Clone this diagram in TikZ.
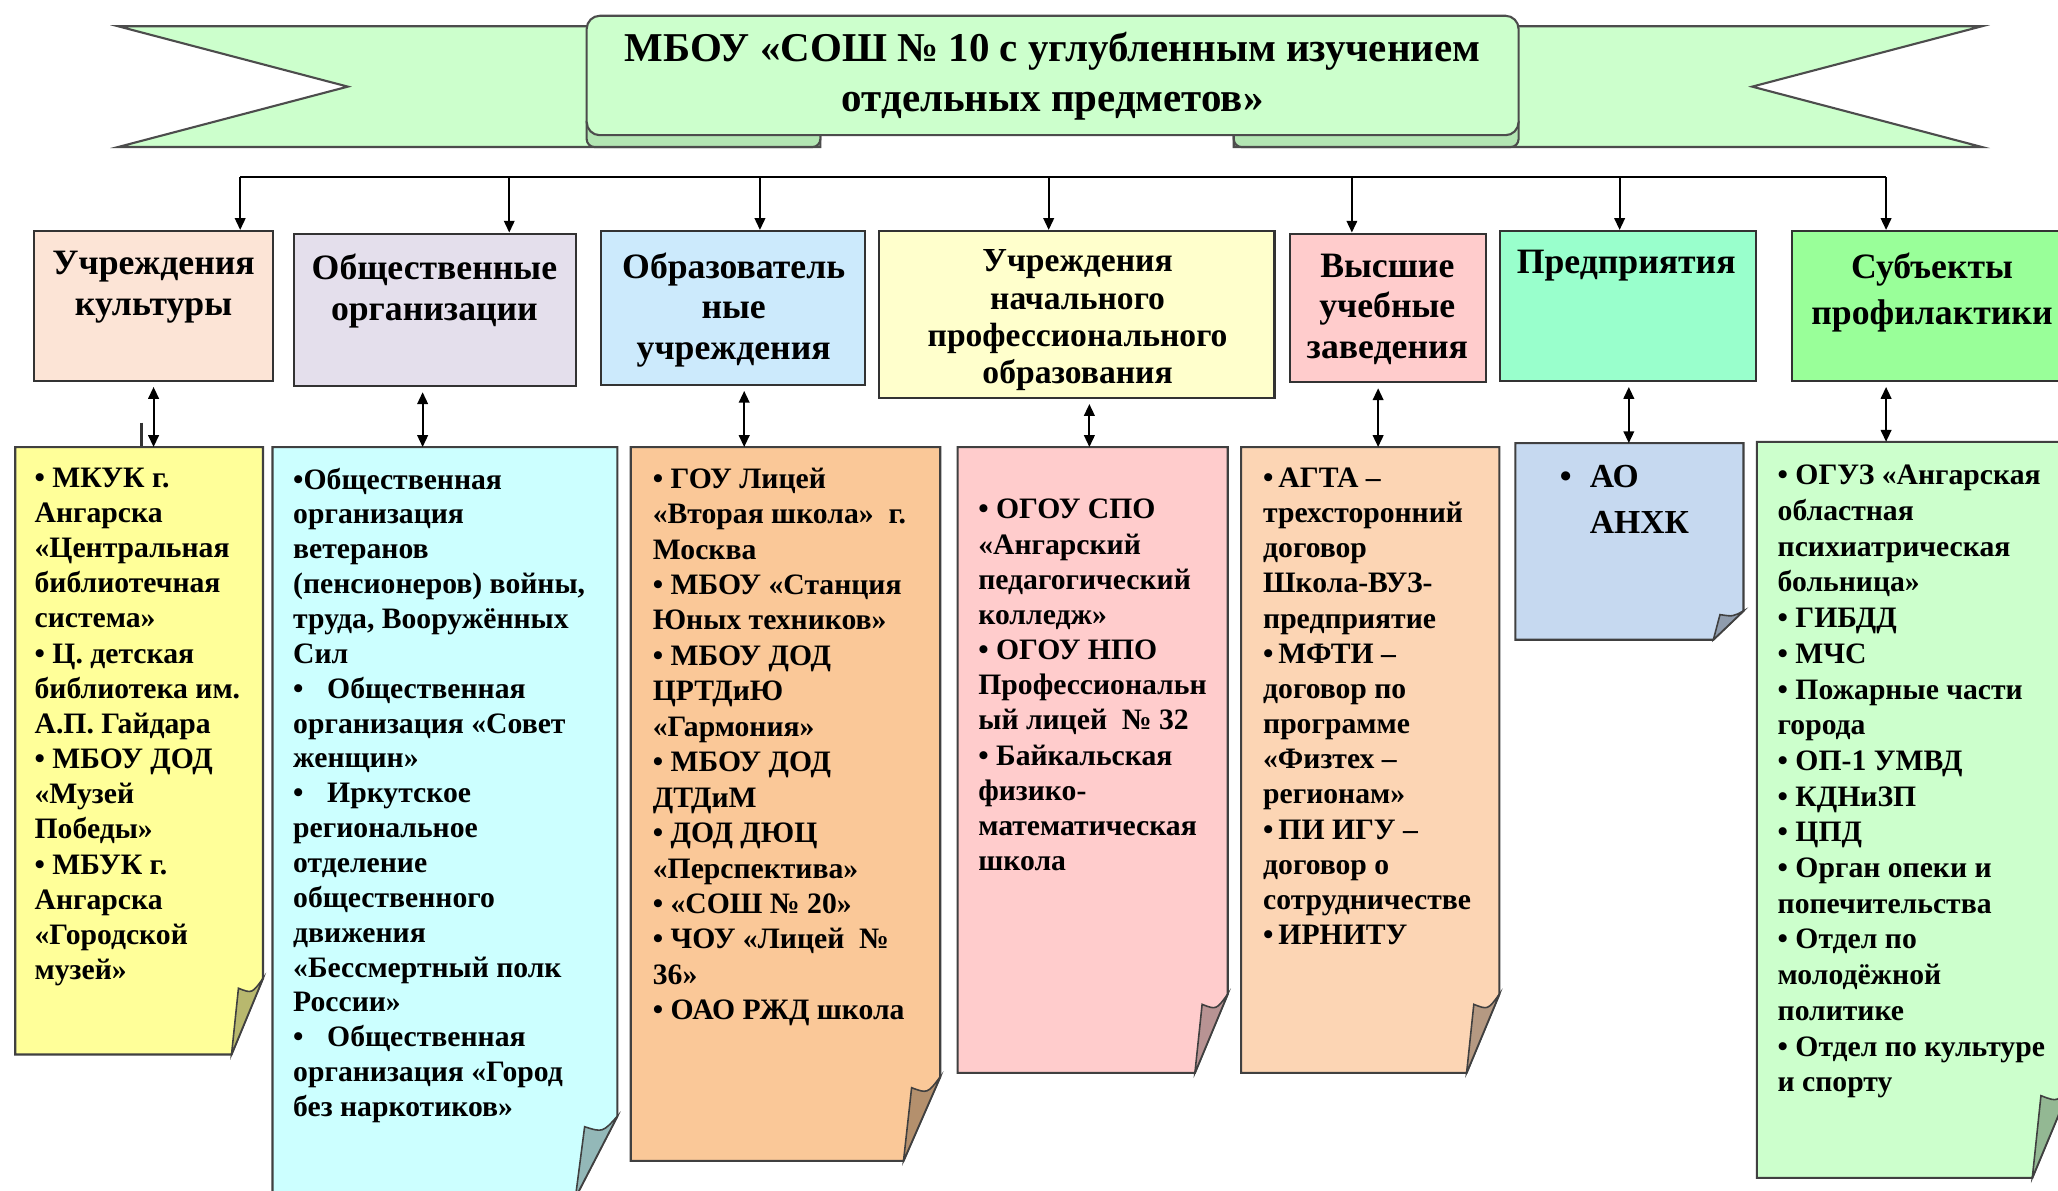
\documentclass[tikz,border=0pt]{standalone}
\usepackage{fontspec}
\setmainfont{Liberation Serif}
\usetikzlibrary{arrows.meta,calc,fit}
\definecolor{bannerfill}{HTML}{CCFFCC}
\definecolor{bannerfold}{HTML}{B3E6B3}
\definecolor{tA}{HTML}{FCE4D6}
\definecolor{tB}{HTML}{E4DFEC}
\definecolor{tC}{HTML}{CCEAFC}
\definecolor{tD}{HTML}{FFFFCC}
\definecolor{tE}{HTML}{FFCCCC}
\definecolor{tF}{HTML}{99FFCC}
\definecolor{tG}{HTML}{99FF99}
\definecolor{nA}{HTML}{FFFF99}
\definecolor{nB}{HTML}{CCFFFF}
\definecolor{nC}{HTML}{FAC898}
\definecolor{nD}{HTML}{FFCCCC}
\definecolor{nE}{HTML}{FCD5B4}
\definecolor{nF}{HTML}{C6D9F0}
\definecolor{nG}{HTML}{CCFFCC}
\newcommand\mknote[4]{%
  \filldraw[fill=#2, draw=black!75, line width=0.8pt]
    (#1.north west) -- (#1.north east) -- ($(#1.south east)+(0,-#4)$) --
    ($(#1.south east)+(-#3,0)$) -- (#1.south west) -- cycle;
  \filldraw[fill=#2!72!black, draw=black!75, line width=0.6pt]
    ($(#1.south east)+(0,-#4)$) .. controls ($(#1.south east)+(-0.35*#3,-0.8*#4)$) ..
    ($(#1.south east)+(-0.78*#3,-0.87*#4)$) -- ($(#1.south east)+(-#3,0)$) -- cycle;
}
\tikzset{
  boxline/.style={draw=black!80, line width=0.8pt},
  topbox/.style={boxline, inner sep=0pt},
  notebox/.style={inner sep=0pt},
  toptext/.style={font=\fontsize{13.6}{15.5}\selectfont\bfseries, align=center, inner sep=0pt, anchor=north},
  listtext/.style={font=\fontsize{11.3}{13.4}\selectfont\bfseries, align=left, inner sep=0pt, anchor=north west},
  conn/.style={line width=0.8pt, black},
  tip/.style={-{Triangle[length=4.5pt,width=4pt]}},
  dtip/.style={{Triangle[length=4.5pt,width=4pt]}-{Triangle[length=4.5pt,width=4pt]}},
}
\begin{document}
\begin{tikzpicture}[x=0.5pt,y=-0.5pt]
\clip (0,0) rectangle (1568,907);
\fill[white] (0,0) rectangle (1568,907);
% banner
\filldraw[fill=bannerfill, draw=black!70, line width=0.8pt] (90,20) -- (625,20) -- (625,112) -- (90,112) -- (265,66) -- cycle;
\filldraw[fill=bannerfill, draw=black!70, line width=0.8pt] (1510,20) -- (940,20) -- (940,112) -- (1510,112) -- (1335,66) -- cycle;
\filldraw[fill=bannerfold, draw=black!70, line width=0.8pt, rounded corners=3pt] (447,92) -- (447,112) -- (625,112) -- (625,92);
\filldraw[fill=bannerfold, draw=black!70, line width=0.8pt, rounded corners=3pt] (1157,92) -- (1157,112) -- (940,112) -- (940,92);
\node[fit={(447,12) (1157,103)}, inner sep=0pt, draw=black!70, line width=0.8pt, fill=bannerfill, rounded corners=5pt] (title) {};
\node[font=\fontsize{15.6}{19}\selectfont\bfseries, align=center, inner sep=0pt, anchor=north] (titletext) at (802,24) {МБОУ «СОШ № 10 с углубленным изучением\\отдельных предметов»};
% top boxes
\node[topbox, fill=tA, fit={(26,176) (208,290)}] (t1) {};
\node[topbox, fill=tB, fit={(224,178) (439,294)}] (t2) {};
\node[topbox, fill=tC, fit={(458,176) (659,293)}] (t3) {};
\node[topbox, fill=tD, fit={(670,176) (971,303)}] (t4) {};
\node[topbox, fill=tE, fit={(983,178) (1132,291)}] (t5) {};
\node[topbox, fill=tF, fit={(1143,176) (1338,290)}] (t6) {};
\node[topbox, fill=tG, fit={(1365,176) (1579,290)}] (t7) {};
\node[toptext] (t1t) at (117,191) {Учреждения\\культуры};
\node[toptext] (t2t) at (331,193) {Общественные\\организации};
\node[toptext] (t3t) at (559,192) {Образователь\\ные\\учреждения};
\node[toptext, font=\fontsize{12.8}{14.2}\selectfont\bfseries] (t4t) at (821,190) {Учреждения\\начального\\профессионального\\образования};
\node[toptext] (t5t) at (1057,193) {Высшие\\учебные\\заведения};
\node[toptext] (t6t) at (1239,190) {Предприятия};
\node[toptext, font=\fontsize{13.6}{17.5}\selectfont\bfseries] (t7t) at (1472,192) {Субъекты\\профилактики};
% bus
\foreach \i/\x in {1/183,2/388,3/579,4/799,5/1030,6/1234,7/1437} { \coordinate (d\i) at (\x,135); }
\draw[conn] (d1) -- (d7);
\foreach \i in {1,...,7} { \draw[conn, tip] (d\i) -- (d\i |- t\i.north); }
% note boxes
\node[notebox, fit={(12,341) (200,803)}] (n1) {};
\node[notebox, fit={(208,341) (470,912)}] (n2) {};
\node[notebox, fit={(481,341) (716,884)}] (n3) {};
\node[notebox, fit={(730,341) (935,817)}] (n4) {};
\node[notebox, fit={(946,341) (1142,817)}] (n5) {};
\node[notebox, fit={(1155,338) (1328,487)}] (n6) {};
\node[notebox, fit={(1339,337) (1578,897)}] (n7) {};
\mknote{n1}{nA}{24}{58}
\mknote{n2}{nB}{32}{62}
\mknote{n3}{nC}{28}{64}
\mknote{n4}{nD}{25}{60}
\mknote{n5}{nE}{25}{60}
\mknote{n6}{nF}{23}{22}
\mknote{n7}{nG}{30}{72}
% vertical double arrows
\foreach \i/\x in {1/117,2/322,3/567,4/830,5/1050,6/1241,7/1437} { \coordinate (a\i) at (\x,320); }
\foreach \i in {1,...,7} { \draw[conn, dtip, shorten <=2pt] (t\i.south -| a\i) -- (n\i.north -| a\i); }
\draw[line width=1pt, black!80] (108,322) -- (108,340);
% list texts
\node[listtext] (n1t) at (26,356) {• МКУК г.\\Ангарска\\«Центральная\\библиотечная\\система»\\• Ц. детская\\библиотека им.\\А.П. Гайдара\\• МБОУ ДОД\\«Музей\\Победы»\\• МБУК г.\\Ангарска\\«Городской\\музей»};
\node[listtext, font=\fontsize{11.3}{13.28}\selectfont\bfseries] (n2t) at (223,356) {•Общественная\\организация\\ветеранов\\(пенсионеров) войны,\\труда, Вооружённых\\Сил\\•\hspace{9pt}Общественная\\организация «Совет\\женщин»\\•\hspace{9pt}Иркутское\\региональное\\отделение\\общественного\\движения\\«Бессмертный полк\\России»\\•\hspace{9pt}Общественная\\организация «Город\\без наркотиков»};
\node[listtext, font=\fontsize{11.3}{13.5}\selectfont\bfseries] (n3t) at (497,356) {• ГОУ Лицей\\«Вторая школа»~~г.\\Москва\\• МБОУ «Станция\\Юных техников»\\• МБОУ ДОД\\ЦРТДиЮ\\«Гармония»\\• МБОУ ДОД\\ДТДиМ\\• ДОД ДЮЦ\\«Перспектива»\\• «СОШ № 20»\\• ЧОУ «Лицей~~№\\36»\\• ОАО РЖД школа};
\node[listtext] (n4t) at (745,380) {• ОГОУ СПО\\«Ангарский\\педагогический\\колледж»\\• ОГОУ НПО\\Профессиональн\\ый лицей~~№ 32\\• Байкальская\\физико-\\математическая\\школа};
\node[listtext] (n5t) at (962,356) {•\,АГТА –\\трехсторонний\\договор\\Школа-ВУЗ-\\предприятие\\•\,МФТИ –\\договор по\\программе\\«Физтех –\\регионам»\\•\,ПИ ИГУ –\\договор о\\сотрудничестве\\•\,ИРНИТУ};
\node[listtext, font=\fontsize{12.8}{17.5}\selectfont\bfseries] (n6t) at (1211,354) {\llap{•\hspace{7pt}}АО\\АНХК};
\node[listtext, font=\fontsize{11.3}{13.6}\selectfont\bfseries] (n7t) at (1354,354) {• ОГУЗ «Ангарская\\областная\\психиатрическая\\больница»\\• ГИБДД\\• МЧС\\• Пожарные части\\города\\• ОП-1 УМВД\\• КДНиЗП\\• ЦПД\\• Орган опеки и\\попечительства\\• Отдел по\\молодёжной\\политике\\• Отдел по культуре\\и спорту};
\end{tikzpicture}
\end{document}
